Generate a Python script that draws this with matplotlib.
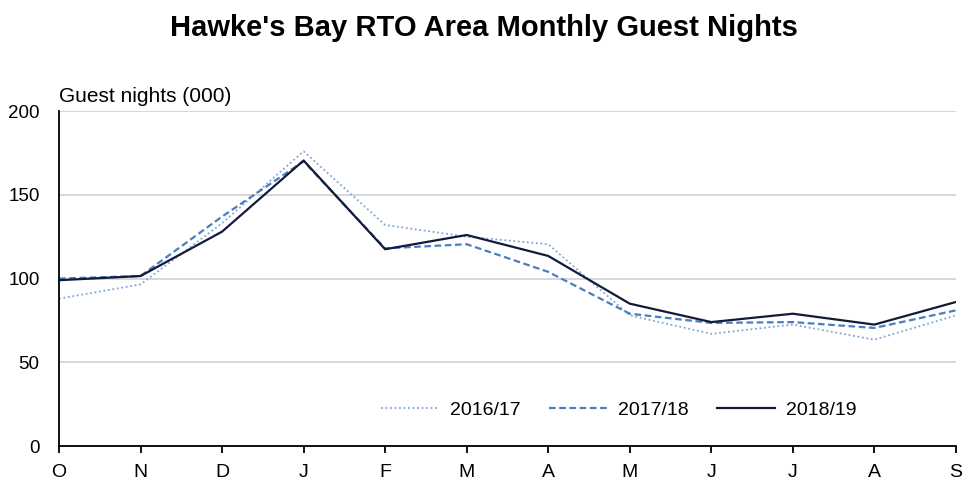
import matplotlib
matplotlib.use("Agg")
import matplotlib.pyplot as plt

plt.rcParams['font.family'] = ['Liberation Sans', 'DejaVu Sans']

months = ["O", "N", "D", "J", "F", "M", "A", "M", "J", "J", "A", "S"]
s2016 = [88, 96.5, 133, 176, 132, 125, 120.5, 78, 67, 72.5, 63.5, 78]
s2017 = [100, 101.5, 137, 170, 118, 120.5, 104, 79, 73.5, 74, 70.5, 81]
s2018 = [99, 101.5, 128, 170.5, 117.5, 126, 113.5, 85, 74, 79, 72.5, 86]
yticks = [0, 50, 100, 150, 200]

fig = plt.figure(figsize=(9.67, 4.84), dpi=100)
ax = fig.add_axes([0.061, 0.0785, 0.9275, 0.692])

x = list(range(len(months)))
ax.plot(x, s2016, color="#7EA6D6", linestyle=(0, (1, 1.5)), linewidth=1.3, label="2016/17")
ax.plot(x, s2017, color="#4A7FBF", linestyle=(0, (3, 1.6)), linewidth=1.6, label="2017/18")
ax.plot(x, s2018, color="#121A3A", linestyle="-", linewidth=1.6, label="2018/19")

ax.set_xlim(0, len(months) - 1)
ax.set_ylim(0, 200)
ax.set_yticks(yticks)
ax.set_yticklabels([str(v) for v in yticks], fontsize=13.5)
ax.set_xticks(x)
ax.set_xticklabels(months, fontsize=14)

ax.grid(axis="y", color="#D4D4D4", linewidth=1.3)
ax.set_axisbelow(True)
for s in ["top", "right"]:
    ax.spines[s].set_visible(False)
ax.spines["left"].set_color("#000000")
ax.spines["bottom"].set_color("#000000")
ax.spines["left"].set_linewidth(1.3)
ax.spines["bottom"].set_linewidth(1.3)
ax.tick_params(axis="y", length=0, pad=14)
ax.tick_params(axis="x", length=5, width=1.3, direction="out", pad=8)

fig.text(0.061, 0.80, "Guest nights (000)", fontsize=15, ha="left", va="center")
fig.text(0.5, 0.942, "Hawke's Bay RTO Area Monthly Guest Nights", fontsize=21,
         fontweight="bold", ha="center", va="center")

ax.legend(loc="center", bbox_to_anchor=(0.624, 0.107), ncol=3, frameon=False,
          fontsize=14, handlelength=3.0, columnspacing=1.45, handletextpad=0.55)

fig.savefig("out.png", dpi=100)
